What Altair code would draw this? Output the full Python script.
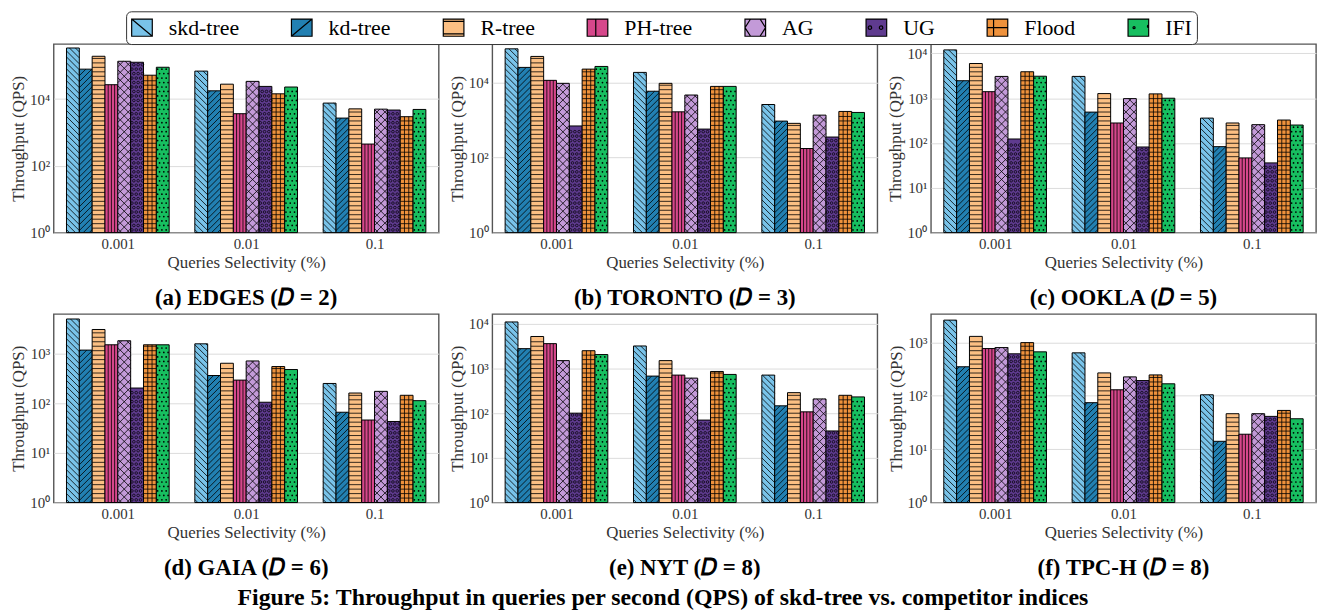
import altair as alt
import pandas as pd

series = ["skd-tree", "kd-tree", "R-tree", "PH-tree", "AG", "UG", "Flood", "IFI"]
colors = ["#79c3e9", "#2280b2", "#fbbf83", "#d6478b", "#c39ad8", "#5f3b8f", "#ef923c", "#17bf60"]
selectivity = ["0.001", "0.01", "0.1"]

# rows follow `series`, columns follow `selectivity` (throughput in QPS)
edges = [[340000, 69000, 7600], [79000, 17700, 2700], [192000, 28000, 5100], [27000, 3650, 450],
         [136000, 34000, 5000], [127000, 24000, 4700], [52000, 14400, 2970], [90000, 23000, 4900]]
toronto = [[78000, 18400, 2570], [25000, 5800, 930], [49000, 9400, 810], [11300, 1640, 173],
           [9400, 4600, 1340], [690, 570, 350], [22500, 7800, 1680], [26500, 7800, 1580]]
ookla = [[12000, 3070, 360], [2460, 490, 83], [5960, 1270, 280], [1400, 280, 46.5],
         [3070, 980, 257], [123, 81.5, 36], [3900, 1250, 326], [3100, 1000, 252]]
gaia = [[5000, 1580, 251], [1180, 363, 66], [3070, 641, 161], [1510, 293, 46],
        [1820, 713, 174], [203, 105, 43], [1510, 550, 145], [1510, 479, 113]]
nyt = [[11000, 3190, 711], [2780, 676, 146], [5200, 1500, 288], [3600, 711, 107],
       [1500, 609, 208], [100, 70, 40], [2500, 858, 251], [2050, 736, 231]]
tpch = [[2600, 634, 104], [348, 74, 14], [1290, 267, 46], [763, 129, 19],
        [796, 225, 46], [608, 192, 41], [986, 245, 53], [662, 167, 37]]

panel_data = [edges, toronto, ookla, gaia, nyt, tpch]
panel_titles = ["(a) EDGES (𝐷 = 2)", "(b) TORONTO (𝐷 = 3)", "(c) OOKLA (𝐷 = 5)",
                "(d) GAIA (𝐷 = 6)", "(e) NYT (𝐷 = 8)", "(f) TPC-H (𝐷 = 8)"]
y_top_exp = [5.65, 5.02, 4.21, 3.80, 4.22, 3.53]
y_tick_exp = [[0, 2, 4], [0, 2, 4], [0, 1, 2, 3, 4], [0, 1, 2, 3], [0, 1, 2, 3, 4], [0, 1, 2, 3]]
caption = "Figure 5: Throughput in queries per second (QPS) of skd-tree vs. competitor indices"

FONT = "Liberation Serif"
W, H = 388, 190
BW = 0.1
LW = 0.8

RECT = "M-1.2,-1H1.2V1H-1.2Z"
legend_paths = [
    RECT + "M-1.2,-1L1.2,1",
    RECT + "M-1.2,1L1.2,-1",
    RECT + "M-1.2,-0.72H1.2M-1.2,0.72H1.2",
    RECT + "M-0.2,-1V1",
    RECT + "M-0.55,1L-1.2,0L-0.55,-1M0.55,-1L1.2,0L0.55,1",
    RECT + "M-0.95,0A0.2,0.2 0 1,1 -0.55,0A0.2,0.2 0 1,1 -0.95,0M0.35,0A0.2,0.2 0 1,1 0.75,0A0.2,0.2 0 1,1 0.35,0",
    RECT + "M-0.45,-1V1M-1.2,0H1.2",
    RECT + "M-0.62,0A0.12,0.12 0 1,1 -0.38,0A0.12,0.12 0 1,1 -0.62,0M1.2,0A0.15,0.15 0 0,1 1.2,-0.3",
]
edge_colors = ["black"] * len(series)

LEG = alt.Legend(orient="none", legendX=73, legendY=-33, direction="horizontal", columns=8,
                 symbolSize=300, symbolStrokeColor="black", symbolStrokeWidth=1.2,
                 labelFont=FONT, labelFontSize=22, labelColor="black", labelOffset=16,
                 columnPadding=50, padding=5, strokeColor="#333333", cornerRadius=5,
                 fillColor="white", labelLimit=300, symbolOpacity=1)
color_enc = alt.Color("series:N", scale=alt.Scale(domain=series, range=colors), legend=LEG, title=None)
shape_enc = alt.Shape("series:N", scale=alt.Scale(domain=series, range=legend_paths), legend=LEG, title=None)
stroke_enc = alt.Stroke("series:N", scale=alt.Scale(domain=series, range=edge_colors), legend=LEG, title=None)

sup = "['⁰','¹','²','³','⁴','⁵','⁶']"
sel_js = "[" + ",".join("'" + s + "'" for s in selectivity) + "]"


def names_filter(names):
    return "indexof([" + ",".join("'" + n + "'" for n in names) + "], datum.series) >= 0"


def panel(values, title, top_exp, tick_exps):
    ppd = H / top_exp
    bwpx = W / 3 * BW
    df = pd.DataFrame([{"series": series[s], "s": s, "g": g, "v": values[s][g]}
                       for s in range(len(series)) for g in range(len(selectivity))])
    xaxis = alt.Axis(values=[0, 1, 2], labelExpr=sel_js + "[round(datum.value)]", grid=False, ticks=False,
                     domain=False, labelFont=FONT, labelFontSize=15, labelColor="#333333", labelPadding=4,
                     titleFont=FONT, titleFontSize=17, titleColor="#333333", titleFontWeight="normal",
                     titlePadding=3)
    yaxis = alt.Axis(values=[10 ** e for e in tick_exps], labelExpr="'10' + " + sup + "[round(log(datum.value) / LN10)]",
                     grid=True, gridColor="#dcdcdc", gridWidth=1, ticks=False, domain=False,
                     labelFont=FONT, labelFontSize=15, labelColor="#333333", labelPadding=4,
                     titleFont=FONT, titleFontSize=17, titleColor="#333333", titleFontWeight="normal",
                     titlePadding=2)
    xs = alt.Scale(domain=[-0.5, 2.5], nice=False, zero=False)
    ys = alt.Scale(type="log", domain=[1, 10 ** top_exp], nice=False)

    def X(f):
        return alt.X(f + ":Q", scale=xs, axis=xaxis, title="Queries Selectivity (%)")

    def Y(f):
        return alt.Y(f + ":Q", scale=ys, axis=yaxis, title="Throughput (QPS)")

    base = alt.Chart(df).transform_calculate(
        xl=f"datum.g + (datum.s - 3.5) * {BW} - {BW / 2}",
        xr=f"datum.g + (datum.s - 3.5) * {BW} + {BW / 2}",
        lt="log(datum.v) / LN10",
        one="1",
    )

    bars = base.mark_rect(stroke="black", strokeWidth=1).encode(
        x=X("xl"), x2="xr:Q", y=Y("v"), y2="one:Q", color=color_enc)

    def diag(names, back, sp_px):
        D = bwpx / ppd
        step = sp_px / ppd
        c = base.transform_filter(names_filter(names)).transform_calculate(
            k=f"sequence({-D + step / 2}, datum.lt, {step})").transform_flatten(["k"])
        if back:
            c = c.transform_calculate(t0=f"max(0, (datum.k + {D} - datum.lt) / {D})",
                                      t1=f"min(1, (datum.k + {D}) / {D})")
            ya = f"pow(10, datum.k + {D} - datum.t0 * {D})"
            yb = f"pow(10, datum.k + {D} - datum.t1 * {D})"
        else:
            c = c.transform_calculate(t0=f"max(0, -datum.k / {D})",
                                      t1=f"min(1, (datum.lt - datum.k) / {D})")
            ya = f"pow(10, datum.k + datum.t0 * {D})"
            yb = f"pow(10, datum.k + datum.t1 * {D})"
        c = c.transform_filter("datum.t1 > datum.t0").transform_calculate(
            xa=f"datum.xl + datum.t0 * {BW}", xb=f"datum.xl + datum.t1 * {BW}", ya=ya, yb=yb)
        return c.mark_rule(color="black", strokeWidth=LW, clip=True).encode(
            x=X("xa"), x2="xb:Q", y=Y("ya"), y2="yb:Q")

    def hlines(names, sp_px):
        step = sp_px / ppd
        return (base.transform_filter(names_filter(names))
                .transform_calculate(k=f"sequence({step}, datum.lt - {step * 0.3}, {step})")
                .transform_flatten(["k"]).transform_calculate(yk="pow(10, datum.k)")
                .mark_rule(color="black", strokeWidth=LW, clip=True)
                .encode(x=X("xl"), x2="xr:Q", y=Y("yk")))

    def vlines(names, n):
        return (base.transform_filter(names_filter(names))
                .transform_calculate(c=f"sequence(1, {n})").transform_flatten(["c"])
                .transform_calculate(xc=f"datum.xl + datum.c * {BW / n}")
                .mark_rule(color="black", strokeWidth=LW, clip=True)
                .encode(x=X("xc"), y=Y("one"), y2="v:Q"))

    def dots(names, sp_px, ncol, mark):
        step = sp_px / ppd
        return (base.transform_filter(names_filter(names))
                .transform_calculate(k=f"sequence({step * 0.6}, datum.lt - {step * 0.4}, {step})")
                .transform_flatten(["k"])
                .transform_calculate(c=f"sequence(0, {ncol})").transform_flatten(["c"])
                .transform_calculate(r=f"round((datum.k - {step * 0.6}) / {step}) % 2")
                .transform_calculate(xc=f"datum.xl + (datum.c + 0.3 + 0.45 * datum.r) * {BW / ncol}",
                                     yk="pow(10, datum.k)")
                .mark_point(**mark).encode(x=X("xc"), y=Y("yk")))

    leg_df = pd.DataFrame({"series": series, "lx": [0.0] * len(series), "ly": [0.5] * len(series)})
    leg = (alt.Chart(leg_df)
           .mark_point(filled=True, clip=True, strokeWidth=1.2, opacity=1)
           .encode(x=X("lx"), y=Y("ly"), color=color_enc, shape=shape_enc, stroke=stroke_enc))

    layers = [
        bars,
        diag(["skd-tree"], True, 6),
        diag(["kd-tree"], False, 6),
        diag(["AG"], True, 8),
        diag(["AG"], False, 8),
        hlines(["R-tree", "Flood"], 4.5),
        vlines(["PH-tree"], 4),
        vlines(["Flood"], 3),
        dots(["UG"], 4.5, 3, dict(shape="circle", size=7, filled=False, stroke="black", strokeWidth=0.7,
                                    opacity=1, clip=True)),
        dots(["IFI"], 4.5, 3, dict(shape="circle", size=3, filled=True, color="black", opacity=1, clip=True)),
        leg,
    ]
    return alt.layer(*layers).properties(
        width=W, height=H,
        title=alt.TitleParams(title, orient="bottom", anchor="middle", font=FONT, fontSize=23,
                              fontWeight="bold", color="black", offset=17))


panels = [panel(panel_data[i], panel_titles[i], y_top_exp[i], y_tick_exp[i]) for i in range(6)]
row1 = alt.hconcat(panels[0], panels[1], panels[2], spacing=8)
row2 = alt.hconcat(panels[3], panels[4], panels[5], spacing=8)

chart = alt.vconcat(
    row1, row2, spacing=2,
    padding={"left": 1, "top": 0, "right": 0, "bottom": 0},
    title=alt.TitleParams(caption, orient="bottom", anchor="middle", font=FONT, fontSize=24,
                          fontWeight="bold", color="black", offset=6),
).configure_view(stroke="#555555", strokeWidth=1.4)

chart.save("out.html", embed_options={"renderer": "svg", "actions": False})
